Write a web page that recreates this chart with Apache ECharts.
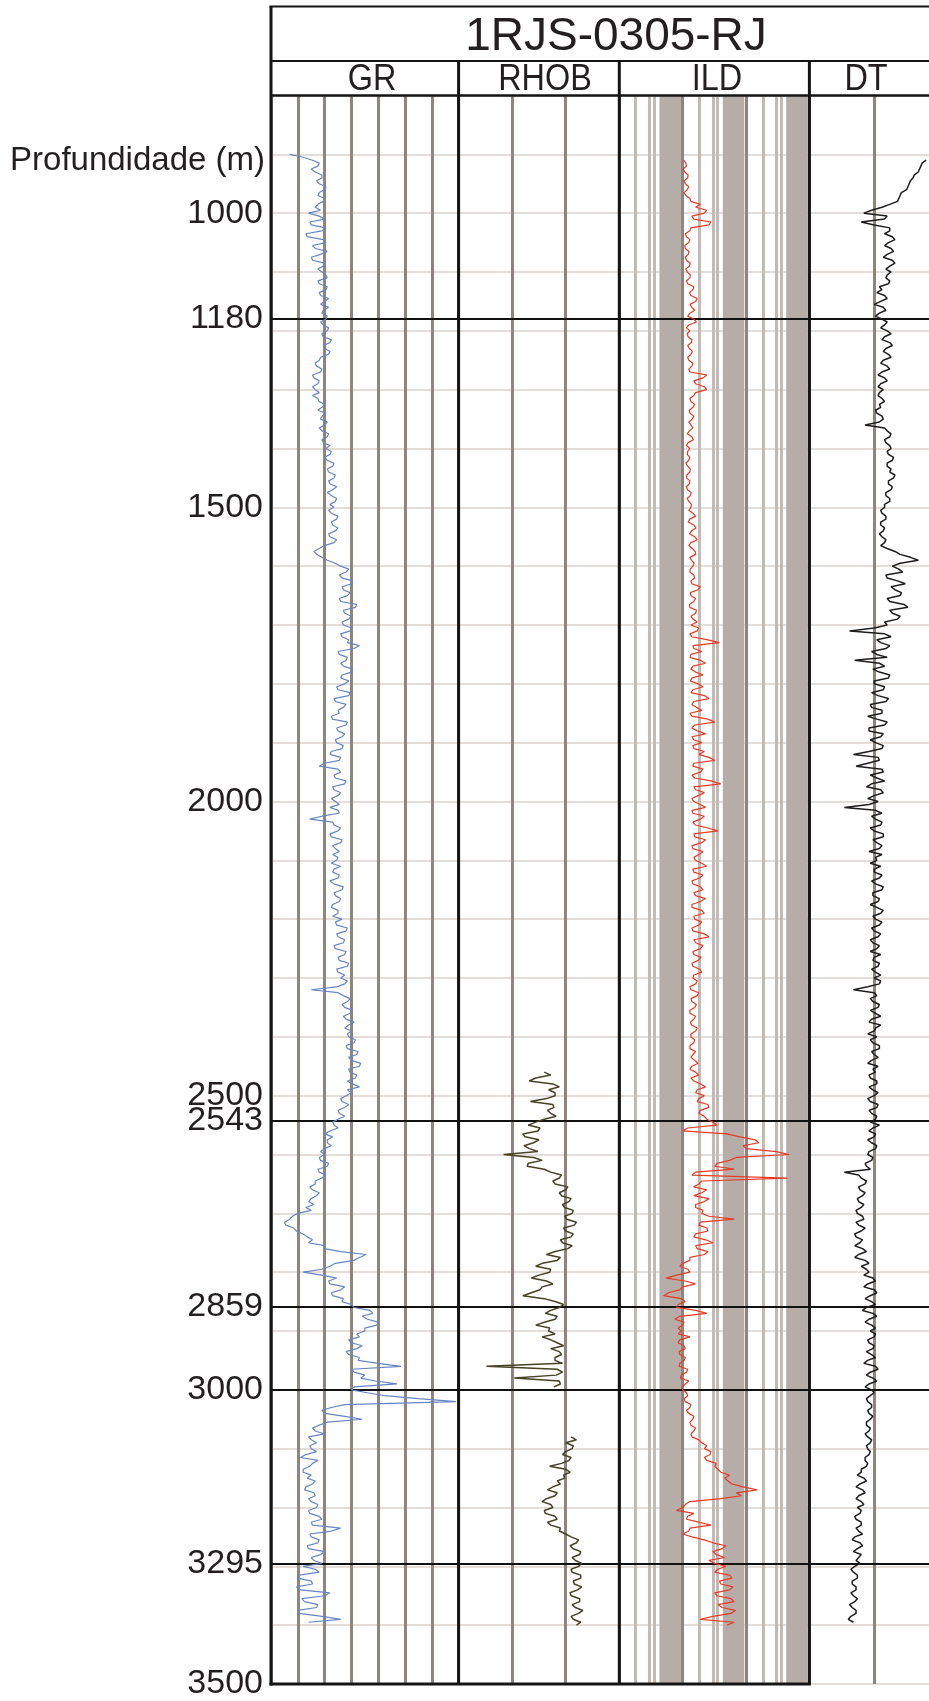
<!DOCTYPE html>
<html><head><meta charset="utf-8">
<script src="https://cdn.jsdelivr.net/npm/echarts@6.0.0/dist/echarts.min.js"></script>
<style>html,body{margin:0;padding:0;background:#fff}#c{width:929px;height:1701px}</style>
</head><body><div id="c"></div>
<script>
// ---------------- DATA ----------------
const wellName = '1RJS-0305-RJ';
const trackNames = ['GR', 'RHOB', 'ILD', 'DT'];
const depthAxisName = 'Profundidade (m)';
const depthMin = 800, depthMax = 3500, depthGridStep = 100;
const depthTickLabels = [1000, 1180, 1500, 2000, 2500, 2543, 2859, 3000, 3295, 3500];
const formationTops = [1180, 2543, 2859, 3000, 3295];

// GR (API), sampled every 5 m from 900 m
const grStart = 900, grStep = 5;
const grValues = [
  14, 24, 31, 36, 35, 30, 33, 38, 38, 34, 36, 41, 40, 36, 35, 40, 39, 35, 33, 37,
  28, 36, 40, 29, 30, 41, 38, 26, 27, 39, 41, 31, 33, 42, 37, 30, 31, 40, 39, 35,
  38, 41, 42, 35, 36, 42, 41, 36, 37, 43, 40, 37, 43, 39, 38, 42, 41, 37, 39, 43,
  42, 38, 39, 45, 44, 39, 40, 44, 43, 37, 36, 33, 34, 38, 37, 31, 32, 36, 35, 31,
  33, 36, 31, 35, 36, 40, 38, 35, 41, 38, 37, 42, 40, 36, 38, 43, 42, 38, 39, 44,
  41, 45, 44, 40, 42, 47, 46, 42, 43, 48, 47, 43, 44, 49, 46, 42, 45, 49, 48, 44,
  47, 43, 45, 50, 49, 45, 46, 50, 48, 43, 44, 49, 47, 40, 36, 32, 34, 38, 42, 48,
  52, 58, 56, 51, 53, 61, 60, 53, 54, 59, 57, 51, 52, 64, 63, 54, 55, 60, 58, 53,
  54, 60, 59, 52, 53, 58, 57, 66, 62, 50, 51, 57, 56, 52, 54, 61, 60, 53, 52, 58,
  55, 49, 50, 59, 58, 47, 48, 56, 54, 50, 51, 45, 46, 57, 56, 49, 50, 55, 53, 48,
  49, 54, 53, 45, 44, 52, 51, 40, 36, 50, 52, 47, 48, 56, 55, 46, 47, 52, 50, 45,
  48, 51, 44, 50, 51, 38, 29, 46, 47, 52, 50, 44, 45, 53, 52, 46, 48, 51, 46, 50,
  49, 45, 52, 47, 46, 51, 50, 44, 47, 54, 53, 47, 48, 52, 51, 46, 45, 50, 50, 46,
  53, 48, 49, 57, 56, 49, 50, 55, 54, 47, 48, 56, 55, 50, 51, 58, 57, 49, 50, 55,
  52, 57, 55, 49, 30, 50, 54, 59, 57, 53, 55, 61, 59, 54, 56, 62, 58, 55, 60, 57,
  58, 63, 62, 56, 57, 65, 64, 58, 60, 67, 66, 58, 59, 64, 63, 57, 61, 66, 57, 60,
  56, 52, 53, 58, 55, 50, 51, 55, 50, 46, 47, 50, 44, 40, 46, 42, 42, 45, 40, 37,
  40, 36, 37, 43, 42, 35, 36, 41, 38, 33, 33, 29, 31, 36, 34, 30, 28, 32, 26, 30,
  20, 16, 14, 10, 11, 17, 19, 24, 27, 31, 28, 40, 40, 52, 71, 66, 62, 48, 44, 38,
  24, 38, 49, 43, 44, 55, 52, 45, 46, 54, 53, 60, 62, 74, 76, 68, 72, 80, 79, 70,
  70, 64, 66, 58, 60, 68, 64, 56, 58, 66, 65, 80, 97, 60, 62, 70, 67, 78, 94, 62,
  60, 72, 85, 110, 138, 55, 45, 38, 40, 55, 68, 42, 36, 31, 33, 40, 28, 30, 34, 29,
  30, 34, 26, 22, 35, 31, 29, 24, 24, 30, 27, 33, 31, 26, 25, 32, 33, 28, 30, 35,
  34, 28, 29, 36, 38, 30, 31, 52, 45, 29, 30, 36, 35, 27, 28, 40, 37, 30, 32, 38,
  24, 33, 36, 21, 20, 30, 31, 19, 22, 44, 40, 23, 25, 35, 34, 20, 21, 38, 52, 28
];

// RHOB (g/cm3), every 5 m from 2460 m (null = no reading)
const rhobStart = 2460, rhobStep = 5;
const rhobValues = [
  2.30, 2.36, 2.22, 2.16, 2.38, 2.44, 2.34, 2.40,
  2.40, 2.32, 2.17, 2.38, 2.39, 2.33, 2.36, 2.41, 2.30, 2.22, 2.15, 2.26, 2.24, 2.10, 2.12, 2.25, 2.20, 2.11, 2.16, 2.24,
  1.92, 2.20, 2.28, 2.15, 2.14, 2.30, 2.36, 2.46, 2.44, 2.38, 2.40, 2.52, 2.50, 2.44, 2.46, 2.55, 2.53, 2.47, 2.49, 2.57,
  2.56, 2.49, 2.51, 2.60, 2.58, 2.48, 2.50, 2.57, 2.55, 2.45, 2.47, 2.56, 2.52, 2.40, 2.32, 2.45, 2.42, 2.28, 2.22, 2.36,
  2.35, 2.25, 2.18, 2.32, 2.38, 2.28, 2.26, 2.18, 2.10, 2.30, 2.40, 2.48, 2.44, 2.36, 2.31, 2.42, 2.40, 2.30, 2.22, 2.35,
  2.34, 2.40, 2.28, 2.36, 2.42, 2.48, 2.36, 2.44, 2.46, 2.40, 2.40, 2.47, 1.76, 2.42, 2.47, 2.41, 2.02, 2.44, 2.45, 2.39,
  null, null, null, null, null, null, null, null, null, null, null, null, null, null, null, null, 2.55, 2.60, 2.50, 2.57,
  2.56, 2.50, 2.47, 2.55, 2.53, 2.46, 2.35, 2.50, 2.54, 2.48, 2.49, 2.42, 2.45, 2.38, 2.33, 2.42, 2.40, 2.32, 2.28, 2.36,
  2.38, 2.30, 2.31, 2.40, 2.42, 2.33, 2.36, 2.45, 2.44, 2.50, 2.55, 2.62, 2.60, 2.54, 2.57, 2.64, 2.63, 2.56, 2.59, 2.65,
  2.62, 2.55, 2.56, 2.64, 2.64, 2.57, 2.58, 2.65, 2.61, 2.54, 2.55, 2.63, 2.63, 2.56, 2.59, 2.66, 2.62, 2.55, 2.57, 2.64,
  2.60
];

// ILD (ohm.m), every 5 m from 910 m
const ildStart = 910, ildStep = 5;
const ildValues = [
  1.05, 1.12, 1.15, 1.02, 1.08, 1.22, 1.2, 1.06, 1.1, 1.25, 1.18, 1.05, 1.12, 1.3, 1.35, 1.9, 1.6, 2.4,
  2.2, 1.4, 1.5, 2.8, 2.6, 1.35, 1.3, 1.1, 1.15, 1.3, 1.25, 1.08, 1.1, 1.26, 1.22, 1.1, 1.15, 1.32, 1.28, 1.12,
  1.18, 1.32, 1.3, 1.15, 1.2, 1.5, 1.45, 1.28, 1.35, 1.7, 1.6, 1.3, 1.4, 1.55, 1.3, 1.2, 1.5, 1.65, 1.25, 1.15,
  1.3, 1.18, 1.22, 1.4, 1.38, 1.2, 1.28, 1.42, 1.35, 1.2, 1.25, 1.45, 1.4, 1.25, 1.3, 2.4, 2.1, 1.5, 1.6, 2.2,
  2.4, 1.6, 1.5, 1.3, 1.35, 1.55, 1.45, 1.28, 1.3, 1.5, 1.42, 1.25, 1.35, 1.45, 1.28, 1.18, 1.4, 1.48, 1.22, 1.15,
  1.3, 1.2, 1.18, 1.3, 1.25, 1.12, 1.2, 1.32, 1.3, 1.16, 1.15, 1.3, 1.28, 1.14, 1.2, 1.36, 1.32, 1.18, 1.25, 1.38,
  1.35, 1.25, 1.45, 1.6, 1.3, 1.22, 1.5, 1.62, 1.38, 1.28, 1.55, 1.7, 1.35, 1.25, 1.42, 1.58, 1.6, 1.3, 1.38, 1.52,
  1.45, 1.32, 1.3, 1.5, 1.55, 1.35, 1.4, 1.9, 1.75, 1.32, 1.35, 1.6, 1.5, 1.28, 1.3, 1.65, 1.6, 1.35, 1.45, 1.7,
  1.35, 1.8, 1.7, 1.3, 1.4, 2.4, 3.8, 1.45, 1.5, 2.0, 1.35, 1.3, 1.9, 2.3, 1.45, 1.35, 1.6, 2.1, 1.4, 1.32,
  1.75, 2.1, 1.45, 1.35, 2.2, 2.6, 1.5, 1.4, 1.65, 2.0, 1.3, 1.4, 2.5, 3.2, 1.55, 1.4, 1.7, 2.3, 1.4, 1.5,
  2.0, 1.45, 1.5, 2.2, 1.8, 2.6, 3.2, 1.5, 1.45, 2.1, 1.9, 1.4, 1.55, 2.8, 4.0, 1.5, 1.6, 2.2, 1.75, 1.4,
  1.5, 1.9, 2.3, 1.4, 1.45, 2.2, 1.9, 1.45, 1.6, 2.5, 3.6, 1.5, 1.55, 2.3, 2.0, 1.4, 1.45, 2.1, 1.8, 1.5,
  1.6, 2.0, 2.4, 1.45, 1.5, 2.1, 1.85, 1.4, 1.45, 1.9, 2.1, 1.5, 1.6, 2.3, 1.9, 1.4, 1.4, 2.0, 2.2, 1.5,
  1.55, 2.0, 1.8, 1.4, 1.45, 2.2, 2.6, 1.5, 1.6, 2.1, 1.9, 1.45, 1.5, 1.95, 1.75, 1.4, 1.45, 1.85, 2.0, 1.5,
  1.45, 1.7, 1.6, 1.3, 1.35, 1.8, 1.7, 1.35, 1.4, 1.65, 1.55, 1.3, 1.3, 1.6, 1.5, 1.32, 1.38, 1.7, 1.6, 1.35,
  1.35, 1.55, 1.5, 1.3, 1.3, 1.6, 1.45, 1.35, 1.55, 1.75, 1.4, 1.3, 1.6, 1.8, 1.35, 1.5, 1.9, 2.3, 1.7, 1.6,
  2.2, 1.8, 1.7, 2.5, 2.6, 1.9, 1.8, 2.2, 2.4, 3.0, 3.5, 1.2, 1.0, 5.0, 8.0, 14, 16, 9.0, 10, 30,
  48, 7.0, 5.5, 3.5, 3.2, 6.5, 1.6, 1.4, 45, 2.0, 1.8, 1.5, 2.4, 2.0, 1.5, 2.6, 2.2, 1.6, 1.6, 2.1,
  2.0, 2.6, 6.5, 1.9, 1.8, 2.4, 2.5, 1.6, 1.5, 2.3, 3.0, 1.6, 1.7, 2.5, 2.2, 1.3, 1.3, 1.0, 0.9, 1.2,
  1.3, 0.8, 0.55, 1.1, 1.6, 1.0, 0.9, 0.6, 0.5, 0.95, 1.1, 0.85, 0.8, 1.6, 2.4, 0.9, 0.75, 1.05, 1.0, 0.85,
  0.95, 0.85, 1.3, 0.9, 0.85, 1.05, 1.1, 0.88, 0.9, 1.1, 1.05, 0.9, 0.88, 1.2, 1.15, 0.95, 0.92, 1.25, 1.1, 0.98,
  1.0, 1.15, 1.2, 1.05, 1.1, 1.35, 1.3, 1.15, 1.25, 1.5, 1.45, 1.3, 1.35, 1.6, 1.5, 1.35, 1.4, 1.8, 2.0, 2.4,
  2.2, 2.8, 2.7, 2.2, 2.4, 3.4, 3.2, 3.6, 4.0, 5.5, 4.6, 5.2, 6.0, 9.0, 15, 7.0, 8.5, 4.0, 1.3, 1.1,
  1.0, 0.8, 1.5, 1.2, 1.15, 1.8, 2.8, 1.3, 1.25, 1.0, 1.4, 2.2, 3.0, 4.8, 4.2, 3.0, 3.4, 4.6, 2.6, 3.2,
  4.8, 3.6, 3.2, 5.5, 6.0, 3.8, 4.0, 6.2, 5.5, 3.2, 3.5, 5.8, 6.5, 3.6, 4.2, 6.8, 5.8, 3.0, 1.9, 6.5, 5.0
];

// DT (us/ft), every 5 m from 910 m
const dtStart = 910, dtStep = 5;
const dtValues = [
  140, 137, 136, 135, 134, 131, 130, 128, 127, 126, 125, 121, 120, 119, 118, 112, 106, 98,
  92, 110, 108, 90, 100, 112, 112, 108, 114, 116, 111, 108, 113, 115, 110, 107, 114, 116, 112, 109,
  113, 110, 109, 112, 111, 104, 106, 102, 108, 110, 105, 100, 107, 109, 104, 101, 106, 110, 108, 105,
  110, 113, 108, 106, 112, 114, 109, 107, 111, 113, 107, 105, 110, 112, 106, 103, 108, 110, 105, 103,
  107, 104, 103, 106, 108, 104, 105, 101, 102, 106, 107, 104, 93, 108, 110, 113, 112, 108, 109, 112,
  113, 110, 111, 115, 114, 110, 110, 113, 112, 116, 115, 111, 111, 114, 113, 109, 109, 112, 112, 108,
  108, 105, 106, 109, 109, 105, 105, 108, 107, 104, 106, 109, 108, 105, 110, 116, 120, 128, 134, 120,
  114, 119, 122, 109, 110, 118, 124, 113, 116, 121, 120, 110, 112, 123, 126, 112, 114, 120, 118, 108,
  110, 100, 81, 108, 113, 102, 105, 112, 109, 98, 102, 110, 85, 104, 108, 99, 104, 112, 111, 100,
  100, 108, 107, 98, 103, 111, 109, 97, 98, 106, 106, 95, 102, 110, 108, 96, 96, 107, 105, 97,
  101, 107, 106, 96, 84, 103, 104, 95, 86, 106, 107, 97, 102, 108, 98, 94, 105, 107, 100, 95,
  103, 96, 77, 101, 106, 98, 101, 106, 105, 97, 100, 107, 107, 99, 102, 106, 104, 96, 106, 101,
  102, 97, 105, 100, 100, 106, 104, 98, 101, 107, 106, 99, 99, 104, 103, 97, 102, 107, 105, 99,
  101, 106, 104, 98, 100, 105, 103, 97, 99, 104, 102, 97, 105, 100, 99, 104, 103, 98, 101, 105,
  100, 105, 104, 95, 84, 100, 102, 97, 99, 104, 103, 97, 101, 105, 98, 96, 105, 101, 100, 95,
  102, 97, 99, 104, 104, 98, 100, 103, 98, 95, 103, 99, 101, 96, 97, 102, 102, 96, 99, 103,
  100, 95, 97, 103, 102, 96, 98, 102, 101, 97, 104, 99, 96, 101, 100, 95, 98, 102, 101, 96,
  95, 99, 98, 93, 94, 97, 77, 88, 90, 94, 93, 88, 89, 93, 91, 87, 88, 92, 90, 86,
  87, 91, 92, 86, 88, 93, 90, 85, 86, 91, 89, 85, 91, 94, 88, 85, 93, 96, 90, 94,
  96, 92, 99, 101, 95, 92, 100, 102, 97, 93, 98, 101, 94, 91, 99, 102, 96, 93, 98, 101,
  97, 101, 100, 95, 96, 100, 99, 94, 98, 101, 95, 92, 101, 103, 97, 94, 99, 102, 96, 93,
  98, 100, 97, 94, 95, 98, 98, 95, 96, 99, 97, 94, 94, 97, 96, 93, 95, 98, 97, 94,
  95, 97, 96, 93, 93, 95, 94, 90, 90, 87, 92, 94, 89, 86, 91, 93, 88, 86, 90, 92,
  87, 90, 89, 85, 86, 90, 90, 86, 88, 91, 85, 83, 89, 91, 87, 84, 90, 88, 86, 89,
  85, 82, 84, 87, 87, 83, 83, 86, 86, 82, 84, 87, 85, 81, 83, 86, 86, 82, 80, 84
];

// Track scales
const grScale = {min: 0, max: 140, interval: 20};
const rhobScale = {min: 1.5, max: 3.0, interval: 0.5};
const ildScale = {min: 0.1, max: 100};
const dtScale = {min: 50, max: 150, interval: 50};
const ildMinorLines = [0.185, 0.3, 0.355, 1.85, 3, 3.55, 18.5, 30, 35.5];
const ildBands = [[0.43, 0.94], [4.3, 9.4], [43, 94]];

// ---------------- LAYOUT / STYLE ----------------
const edges = [271, 458.6, 619.3, 809.4, 939];
const plotTop = 95.5, plotBottom = 1684;
const headTop = 6.5, headMid = 61;
const font = '"Liberation Sans", Arial, sans-serif';
const ink = '#231f20';
const gridGray = '#8e857f';
const curveColors = ['#6785c4', '#474224', '#e83a26', '#1e1e1e'];

function pts(start, step, vals) { return vals.map((v, i) => [v, start + i * step]); }

const grids = [0, 1, 2, 3].map(i => ({
  left: edges[i], top: plotTop, width: edges[i + 1] - edges[i], height: plotBottom - plotTop,
  containLabel: false, outerBoundsMode: 'none', show: false
}));

const scales = [grScale, rhobScale, ildScale, dtScale];
const xAxes = scales.map((s, i) => Object.assign({
  gridIndex: i, type: i === 2 ? 'log' : 'value', logBase: 10, position: 'top',
  axisLine: {show: false}, axisTick: {show: false}, axisLabel: {show: false},
  splitLine: {show: true, lineStyle: {color: gridGray, width: 3}}
}, s));

const yAxes = [0, 1, 2, 3].map(i => ({
  gridIndex: i, type: 'value', inverse: true, min: depthMin, max: depthMax, interval: depthGridStep,
  axisLine: {show: false}, axisTick: {show: false},
  axisLabel: i === 0 ? {show: true, customValues: depthTickLabels, formatter: v => String(v),
    fontSize: 34, fontFamily: font, color: ink, margin: 8} : {show: false},
  splitLine: {show: true, lineStyle: {color: '#dbd3ce', width: 1.5}}
}));

const series = [];
series.push({
  type: 'line', xAxisIndex: 2, yAxisIndex: 2, data: [], z: 1, silent: true,
  markArea: {silent: true, label: {show: false}, itemStyle: {color: '#b6ada8'},
    data: ildBands.map(b => [{xAxis: b[0]}, {xAxis: b[1]}])}
});
series.push({
  type: 'line', xAxisIndex: 2, yAxisIndex: 2, data: [], z: 2, silent: true,
  markLine: {silent: true, symbol: ['none', 'none'], label: {show: false},
    lineStyle: {color: '#c3bab4', width: 3, type: 'solid'},
    data: ildMinorLines.map(v => ({xAxis: v}))}
});
[0, 1, 2, 3].forEach(i => series.push({
  type: 'line', xAxisIndex: i, yAxisIndex: i, data: [], z: 3, silent: true,
  markLine: {silent: true, symbol: ['none', 'none'], label: {show: false},
    lineStyle: {color: '#111', width: 2, type: 'solid'},
    data: formationTops.map(d => ({yAxis: d}))}
}));
const curves = [
  pts(grStart, grStep, grValues), pts(rhobStart, rhobStep, rhobValues),
  pts(ildStart, ildStep, ildValues), pts(dtStart, dtStep, dtValues)
];
const widths = [1.2, 1.5, 1.2, 1.5];
curves.forEach((d, i) => series.push({
  name: trackNames[i], type: 'line', xAxisIndex: i, yAxisIndex: i, data: d, z: 5,
  showSymbol: false, symbol: 'none', connectNulls: false, clip: true,
  lineStyle: {color: curveColors[i], width: widths[i]}
}));

function hLine(y, x1, x2, w) { return {type: 'line', silent: true, z: 20, shape: {x1: x1, y1: y, x2: x2, y2: y}, style: {stroke: '#151515', lineWidth: w}}; }
function vLine(x, y1, y2, w) { return {type: 'line', silent: true, z: 20, shape: {x1: x, y1: y1, x2: x, y2: y2}, style: {stroke: '#151515', lineWidth: w}}; }
function txt(t, x, y, size, sx, align) {
  return {type: 'text', silent: true, z: 21, x: x, y: y, scaleX: sx,
    style: {text: t, fontSize: size, fontFamily: font, fill: ink,
      align: align, textAlign: align, verticalAlign: 'middle', textVerticalAlign: 'middle'}};
}
const headerCenters = [372, 545, 717, 866];
const elements = [
  hLine(headTop, edges[0] - 1.5, 945, 2),
  hLine(headMid, edges[0], 945, 2),
  hLine(plotTop, edges[0], 945, 2.5),
  hLine(plotBottom, edges[0] - 1.5, edges[3] + 1.5, 3),
  vLine(edges[0], headTop, plotBottom + 1.5, 3),
  vLine(edges[1], headMid, plotBottom, 3),
  vLine(edges[2], headMid, plotBottom, 3),
  vLine(edges[3], headMid, plotBottom, 3),
  txt(wellName, 616, 37, 46, 1, 'center'),
  txt(depthAxisName, 265, 161, 33, 1, 'right')
];
trackNames.forEach((n, i) => elements.push(txt(n, headerCenters[i], 80.5, 36, 0.9, 'center')));

const chart = echarts.init(document.getElementById('c'), null, {renderer: 'canvas', width: 929, height: 1701});
chart.setOption({
  animation: false,
  backgroundColor: '#ffffff',
  grid: grids,
  xAxis: xAxes,
  yAxis: yAxes,
  series: series,
  graphic: {elements: elements}
});
</script>
</body></html>
